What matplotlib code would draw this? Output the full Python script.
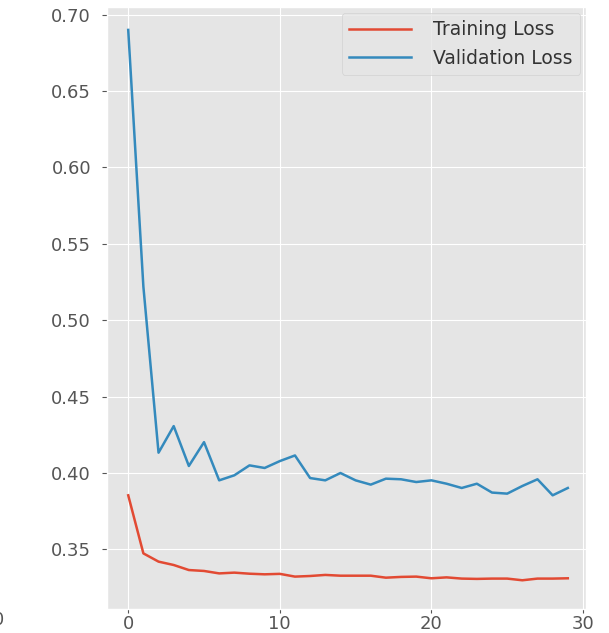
import matplotlib
matplotlib.use("Agg")
import matplotlib.pyplot as plt

plt.style.use("ggplot")

epochs = list(range(30))
training_loss = [0.3854, 0.3474, 0.3420, 0.3398, 0.3365, 0.3359, 0.3343, 0.3348, 0.3341, 0.3337,
                 0.3340, 0.3322, 0.3326, 0.3333, 0.3328, 0.3328, 0.3328, 0.3315, 0.3320, 0.3322,
                 0.3311, 0.3317, 0.3309, 0.3307, 0.3309, 0.3309, 0.3298, 0.3309, 0.3309, 0.3311]
validation_loss = [0.690, 0.522, 0.4133, 0.4307, 0.4046, 0.4202, 0.3952, 0.3985, 0.4050, 0.4033,
                   0.4078, 0.4115, 0.3967, 0.3952, 0.4000, 0.3952, 0.3924, 0.3963, 0.3959, 0.3941,
                   0.3952, 0.3930, 0.3902, 0.3930, 0.3872, 0.3865, 0.3915, 0.3959, 0.3854, 0.3902]

fig = plt.figure(figsize=(6.09, 6.33), dpi=100)
ax = fig.add_axes([107/609, 1 - 609/633, (586-107)/609, (609-7)/633])
ax.plot(epochs, training_loss, color="#E24A33", lw=1.8, label="Training Loss")
ax.plot(epochs, validation_loss, color="#348ABD", lw=1.8, label="Validation Loss")
ax.set_xlim(-1.4, 30.2)
ax.set_ylim(0.311, 0.705)
ax.set_xticks([0, 10, 20, 30])
ax.set_yticks([0.35, 0.40, 0.45, 0.50, 0.55, 0.60, 0.65, 0.70])
ax.set_yticklabels(["0.35", "0.40", "0.45", "0.50", "0.55", "0.60", "0.65", "0.70"])
ax.tick_params(axis="y", labelsize=13, colors="#555555", pad=8)
ax.tick_params(axis="x", labelsize=13, colors="#555555", pad=1, length=3)
ax.legend(loc="upper right", fontsize=13.5, borderaxespad=0.3,
          handlelength=3.3, handletextpad=1.2, labelcolor="#333333")
fig.text(-0.002, 1 - 620/633, "0", fontsize=13, color="#555555", ha="center", va="center")
fig.savefig("out.png", dpi=100)
